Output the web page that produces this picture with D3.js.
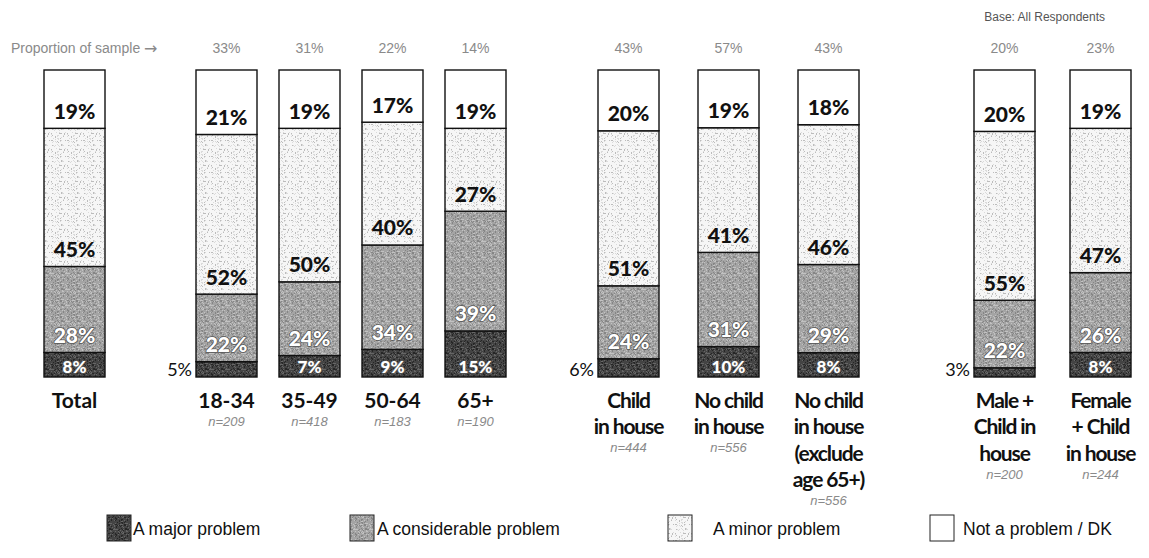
<!DOCTYPE html>
<html>
<head>
<meta charset="utf-8">
<script src="https://cdn.jsdelivr.net/npm/d3@7"></script>
<style>
  html, body { margin: 0; padding: 0; background: #fff; }
  svg { display: block; }
</style>
</head>
<body>
<svg id="chart" width="1149" height="558"></svg>
<script>
// ---------- DATA ----------
const categories = ["Total", "18-34", "35-49", "50-64", "65+",
  "Child in house", "No child in house", "No child in house (exclude age 65+)",
  "Male + Child in house", "Female + Child in house"];
const categoryLines = [
  ["Total"], ["18-34"], ["35-49"], ["50-64"], ["65+"],
  ["Child", "in house"], ["No child", "in house"],
  ["No child", "in house", "(exclude", "age 65+)"],
  ["Male +", "Child in", "house"], ["Female", "+ Child", "in house"]
];
const groups = [[0], [1, 2, 3, 4], [5, 6, 7], [8, 9]];
const seriesNames = ["A major problem", "A considerable problem", "A minor problem", "Not a problem / DK"];
const majorProblem        = [8, 5, 7, 9, 15, 6, 10, 8, 3, 8];
const considerableProblem = [28, 22, 24, 34, 39, 24, 31, 29, 22, 26];
const minorProblem        = [45, 52, 50, 40, 27, 51, 41, 46, 55, 47];
const notAProblem         = [19, 21, 19, 17, 19, 20, 19, 18, 20, 19];
const sampleProportion = [null, "33%", "31%", "22%", "14%", "43%", "57%", "43%", "20%", "23%"];
const sampleN = [null, "n=209", "n=418", "n=183", "n=190", "n=444", "n=556", "n=556", "n=200", "n=244"];

// ---------- LAYOUT ----------
const groupRanges = [[44, 105], [196, 506], [598, 859], [974, 1131]];
const barWidth = 61;
const legendX = [107, 350, 668, 930];
const legendTextGap = [26, 27, 45, 33];

const svg = d3.select("#chart");
const defs = svg.append("defs");

// fine stipple patterns (deterministic)
function makePattern(id, base, dots, size) {
  const p = defs.append("pattern").attr("id", id).attr("patternUnits", "userSpaceOnUse")
    .attr("width", size).attr("height", size);
  p.append("rect").attr("width", size).attr("height", size).attr("fill", base);
  let s = 11;
  dots.forEach(([color, count]) => {
    for (let i = 0; i < count; i++) {
      s = (s * 9301 + 49297) % 233280;
      const x = Math.floor(s / 233280 * size);
      s = (s * 9301 + 49297) % 233280;
      const yy = Math.floor(s / 233280 * size);
      p.append("rect").attr("x", x).attr("y", yy).attr("width", 1).attr("height", 1).attr("fill", color);
    }
  });
}
makePattern("pMajor", "#444", [["#262626", 60], ["#666", 45]], 16);
makePattern("pCons", "#a4a4a4", [["#858585", 60], ["#c2c2c2", 45]], 16);
makePattern("pMinor", "#f6f6f6", [["#bcbcbc", 22], ["#dadada", 30]], 16);
const fills = ["url(#pMajor)", "url(#pCons)", "url(#pMinor)", "#ffffff"];
const textFills = ["#ffffff", "#ffffff", "#111", "#111"];

// ---------- SCALES ----------
const xPos = new Array(categories.length);
groups.forEach((g, gi) => {
  const span = groupRanges[gi][1] - groupRanges[gi][0];
  const step = g.length > 1 ? (span - barWidth) / (g.length - 1) : span;
  const sc = d3.scaleBand().domain(g.map(i => categories[i])).range(groupRanges[gi])
    .paddingInner(g.length > 1 ? 1 - barWidth / step : 0)
    .paddingOuter(0);
  g.forEach(i => { xPos[i] = { x: sc(categories[i]), w: sc.bandwidth() }; });
});

const table = categories.map((c, i) => ({
  cat: c, i,
  s0: majorProblem[i], s1: considerableProblem[i], s2: minorProblem[i], s3: notAProblem[i]
}));
const stack = d3.stack().keys(["s0", "s1", "s2", "s3"]).offset(d3.stackOffsetExpand);
const stacked = stack(table);

const y = d3.scaleLinear().domain([0, 1]).range([377, 70]);
const labelFont = "Lato, 'Open Sans', sans-serif";

// ---------- BARS ----------
stacked.forEach((layer, li) => {
  const g = svg.append("g");
  layer.forEach((d, i) => {
    const x0 = xPos[i].x, w = xPos[i].w;
    const top = y(d[1]), bot = y(d[0]);
    g.append("rect").attr("x", x0).attr("y", top).attr("width", w).attr("height", bot - top)
      .attr("fill", fills[li]).attr("stroke", "#111").attr("stroke-width", 1.4);
  });
});

// segment labels
stacked.forEach((layer, li) => {
  layer.forEach((d, i) => {
    const val = table[i]["s" + li];
    const x0 = xPos[i].x, w = xPos[i].w;
    const top = y(d[1]), bot = y(d[0]);
    if (li === 0 && val < 7) {
      svg.append("text").attr("x", x0 - 4).attr("y", bot - 8)
        .attr("text-anchor", "end").attr("dominant-baseline", "central")
        .attr("font-family", labelFont).attr("font-size", 18).attr("fill", "#111")
        .text(val + "%");
      return;
    }
    const cy = li === 0 ? Math.max(bot - 11, (top + bot) / 2) : bot - 18;
    const t = svg.append("text").attr("x", x0 + w / 2).attr("y", cy)
      .attr("text-anchor", "middle").attr("dominant-baseline", "central")
      .attr("font-family", labelFont).attr("font-weight", 900)
      .attr("font-size", li === 0 ? 17 : 21).attr("fill", textFills[li])
      .text(val + "%");
    if (li < 2) {
      t.attr("stroke", "#555").attr("stroke-width", 1.6).attr("paint-order", "stroke")
        .attr("stroke-linejoin", "round");
    }
  });
});

// category labels + n
categories.forEach((c, i) => {
  const cx = xPos[i].x + xPos[i].w / 2;
  const lines = categoryLines[i];
  lines.forEach((ln, k) => {
    svg.append("text").attr("x", cx).attr("y", 399 + k * 26.5)
      .attr("text-anchor", "middle").attr("dominant-baseline", "central")
      .attr("font-family", labelFont).attr("font-weight", 700).attr("font-size", 21)
      .attr("letter-spacing", lines.length > 1 ? -1.1 : 0)
      .attr("fill", "#111").text(ln);
  });
  if (sampleN[i]) {
    svg.append("text").attr("x", cx).attr("y", 399 + (lines.length - 1) * 26.5 + 22)
      .attr("text-anchor", "middle").attr("dominant-baseline", "central")
      .attr("font-family", "'Liberation Sans', Arial, sans-serif").attr("font-style", "italic")
      .attr("font-size", 13).attr("fill", "#8a8a8a").text(sampleN[i]);
  }
  if (sampleProportion[i]) {
    svg.append("text").attr("x", cx).attr("y", 48)
      .attr("text-anchor", "middle").attr("dominant-baseline", "central")
      .attr("font-family", "'Liberation Sans', Arial, sans-serif")
      .attr("font-size", 14).attr("fill", "#8a8a8a").text(sampleProportion[i]);
  }
});

const prop = svg.append("text").attr("x", 11).attr("y", 48).attr("dominant-baseline", "central")
  .attr("font-family", "'Liberation Sans', Arial, sans-serif").attr("font-size", 14)
  .attr("fill", "#8a8a8a");
prop.append("tspan").text("Proportion of sample ");
prop.append("tspan").attr("font-family", "'DejaVu Sans', sans-serif").attr("font-size", 16).text("\u2192");

svg.append("text").attr("x", 1105).attr("y", 17).attr("text-anchor", "end").attr("dominant-baseline", "central")
  .attr("font-family", "'Liberation Sans', Arial, sans-serif").attr("font-size", 12)
  .attr("fill", "#555").text("Base: All Respondents");

// ---------- LEGEND ----------
seriesNames.forEach((name, li) => {
  const lx = legendX[li];
  svg.append("rect").attr("x", lx).attr("y", 515).attr("width", 24).attr("height", 26)
    .attr("fill", fills[li]).attr("stroke", "#222").attr("stroke-width", 1);
  svg.append("text").attr("x", lx + legendTextGap[li]).attr("y", 529).attr("dominant-baseline", "central")
    .attr("font-family", "'Liberation Sans', Arial, sans-serif").attr("font-size", 17.5)
    .attr("fill", "#111").text(name);
});
</script>
</body>
</html>
